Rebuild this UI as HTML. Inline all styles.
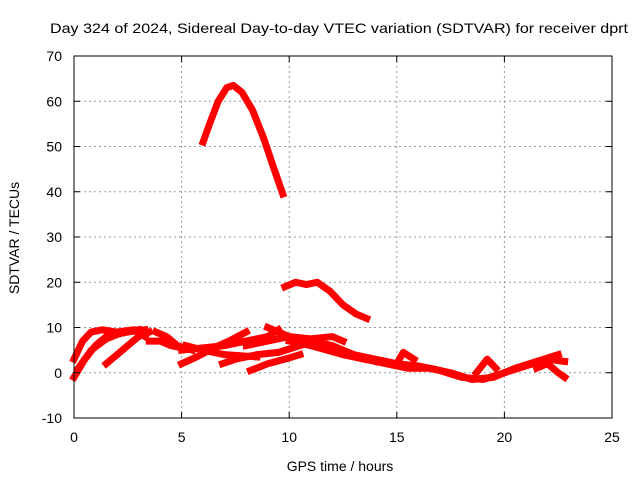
<!DOCTYPE html>
<html><head><meta charset="utf-8"><style>
body{margin:0;background:#fff;font-family:"Liberation Sans",sans-serif;}
svg text{font-family:"Liberation Sans",sans-serif;font-size:14px;fill:#000;}
</style></head><body>
<svg id="chart" width="640" height="480">
<rect width="640" height="480" fill="#fff"/>
<text x="50" y="33" textLength="578" lengthAdjust="spacingAndGlyphs">Day 324 of 2024, Sidereal Day-to-day VTEC variation (SDTVAR) for receiver dprt</text>
<g id="grid"></g><g id="series"></g><g id="axes"></g>
<text x="340" y="471" text-anchor="middle">GPS time / hours</text>
<text transform="translate(19,238) rotate(-90)" text-anchor="middle">SDTVAR / TECUs</text>
</svg>
<script>
const xTicks=[0,5,10,15,20,25];
const yTicks=[-10,0,10,20,30,40,50,60,70];
const trackHours=[
 [6.0,6.3,6.7,7.1,7.4,7.8,8.3,8.8,9.3,9.7],
 [9.8,10.3,10.8,11.3,11.9,12.5,13.1,13.6],
 [0,0.5,1,1.5,2.5,3.3],
 [0,0.4,0.8,1.3,2,2.8,3.3],
 [1.5,2,2.5,3,3.5],
 [3.5,4,4.5,5],
 [3.8,4.3,4.8,5.5],
 [5,5.7,6.5,7.2,8],
 [5,6,7,8,9,9.5],
 [6.9,7.5,8.5,9.5,10.5],
 [8.2,9,9.8,10.5],
 [9,10,11,12,12.5],
 [8,9,10,10.8,11.5,12,12.5,13,14],
 [13,14,15,16,17,18,19,20,21,22,22.8],
 [13.5,14.5,15.5,16.5,17.5,18.5,19.5,20.5,21.5,22.5],
 [15,15.3,15.8],
 [18.7,19.2,19.6],
 [21.5,22,22.5,22.8],
 [0.2,0.8,1.5,2.3,3],
 [5.2,6,7,8.5],
 [10,11,12.5,13.5]
];
const trackValues=[
 [51,55,60,63,63.5,62,58,52,45,39.5],
 [19,20,19.5,20,18,15,13,12],
 [-1,3,6,8,9,9.5],
 [3,7,9,9.5,9,9.5,8],
 [2,4,6,8,9],
 [7,7,6,5.5],
 [9,8,6,5],
 [2,3.5,5.5,7,9],
 [5,5.5,6,7,8,9.5],
 [2,3,4,4.5,6],
 [0.5,2,3,4],
 [10,8,7.5,8,7],
 [6,7,8,7,6.5,6,5,4,2.5],
 [4,3,2,1.5,0.5,-1,-1.5,0,1.5,3,2.5],
 [3,2,1,1,0,-1.5,-1,1,2.5,4],
 [2,4.5,3],
 [0,3,1],
 [1,2,0,-1],
 [1,5,7.5,9,9.5],
 [6,5,4,3.5],
 [7,6,4,3]
];
const X=h=>74+h*21.52, Y=v=>372.75-v*4.525;
const ns="http://www.w3.org/2000/svg";
const g=document.getElementById('grid'),a=document.getElementById('axes'),s=document.getElementById('series');
function mk(p,t,at){const e=document.createElementNS(ns,t);for(const k in at)e.setAttribute(k,at[k]);p.appendChild(e);return e;}
xTicks.forEach(t=>{
 if(t>0&&t<25){const l=mk(g,'line',{x1:X(t),x2:X(t),y1:56,y2:418,stroke:'#999','stroke-dasharray':'2,3'});
 
 }
 mk(a,'line',{x1:X(t),x2:X(t),y1:418,y2:412,stroke:'#000'});mk(a,'line',{x1:X(t),x2:X(t),y1:56,y2:62,stroke:'#000'});
 const tx=mk(a,'text',{x:X(t),y:442,'text-anchor':'middle'});tx.textContent=t;
 
 
});
yTicks.forEach(t=>{
 if(t>-10&&t<70){const l=mk(g,'line',{x1:74,x2:612,y1:Y(t),y2:Y(t),stroke:'#999','stroke-dasharray':'2,3'});
 
 }
 mk(a,'line',{x1:74,x2:80,y1:Y(t),y2:Y(t),stroke:'#000'});mk(a,'line',{x1:606,x2:612,y1:Y(t),y2:Y(t),stroke:'#000'});
 const tx=mk(a,'text',{x:62,y:Y(t)+5,'text-anchor':'end'});tx.textContent=t;
 
 
});
const fr=mk(a,'rect',{x:74,y:56,width:538,height:362,fill:'none',stroke:'#000'});


trackHours.forEach((hs,i)=>{
 const pts=hs.map((h,j)=>X(h)+','+Y(trackValues[i][j])).join(' ');
 const p=mk(s,'polyline',{points:pts,fill:'none',stroke:'#f00','stroke-width':7,'stroke-linejoin':'round','stroke-linecap':'square'});
 
 
});
</script>
</body></html>
